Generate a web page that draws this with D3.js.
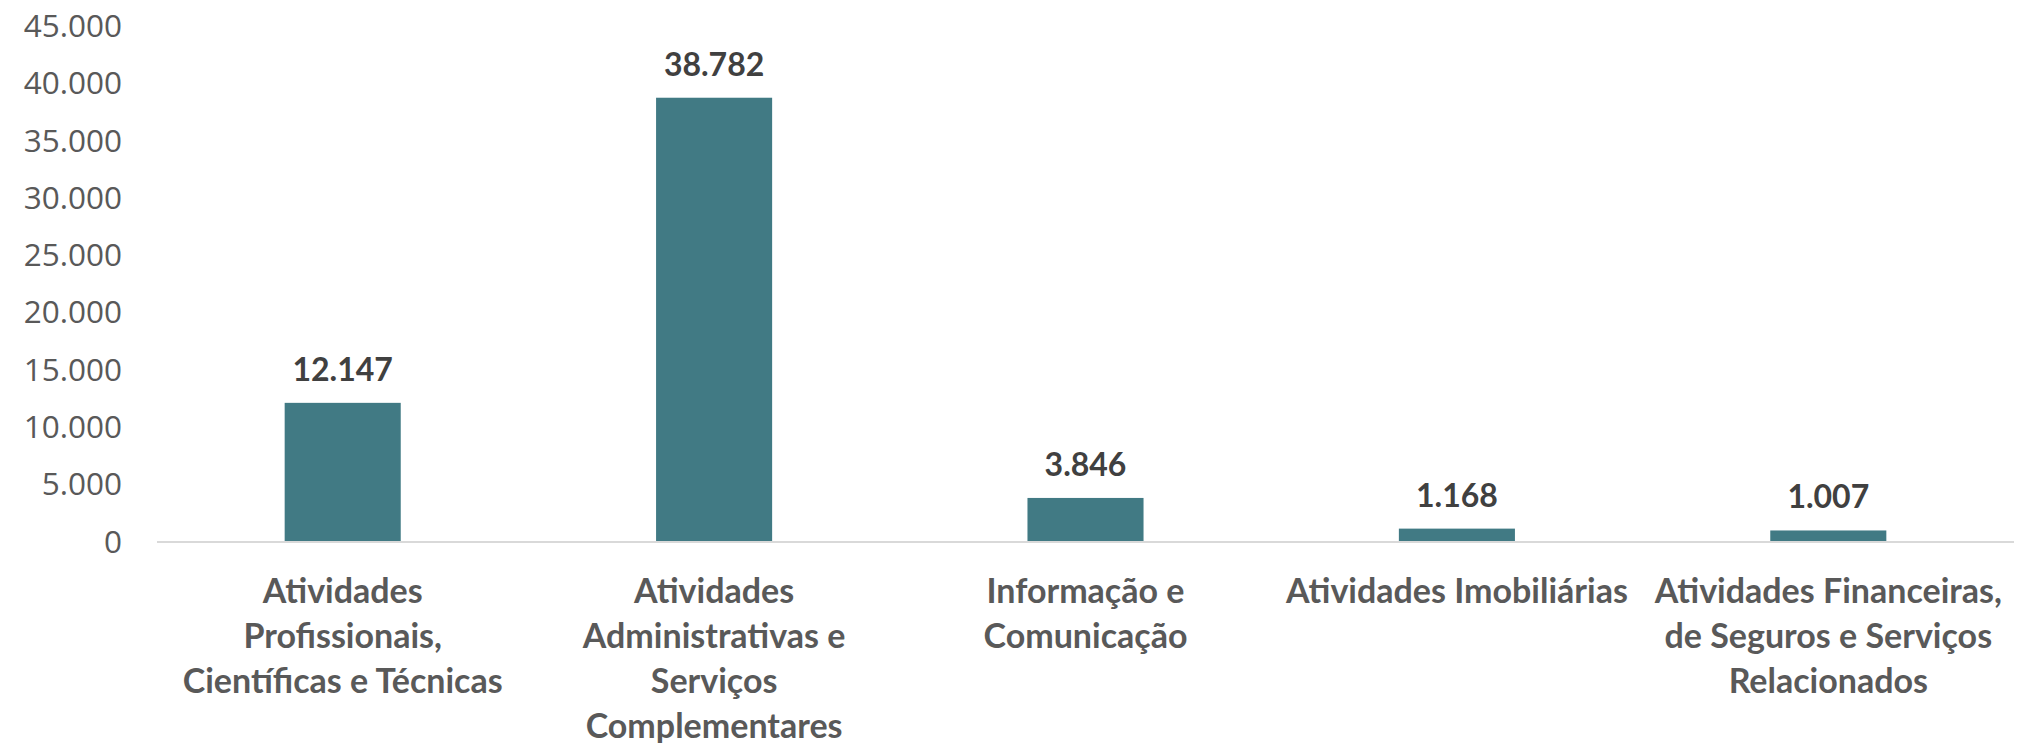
<!DOCTYPE html>
<html lang="pt">
<head>
<meta charset="utf-8">
<script src="https://cdn.jsdelivr.net/npm/d3@7"></script>
<style>
  html, body { margin: 0; padding: 0; background: #ffffff; }
  svg { display: block; }
</style>
</head>
<body>
<svg id="chart" width="2028" height="743"></svg>
<script>
// Setores de atividade e número de empresas em cada um
const categories = [
  "Atividades Profissionais, Científicas e Técnicas",
  "Atividades Administrativas e Serviços Complementares",
  "Informação e Comunicação",
  "Atividades Imobiliárias",
  "Atividades Financeiras, de Seguros e Serviços Relacionados"
];
// Quebras de linha dos rótulos do eixo das categorias
const categoryLines = [
  ["Atividades", "Profissionais,", "Científicas e Técnicas"],
  ["Atividades", "Administrativas e", "Serviços", "Complementares"],
  ["Informação e", "Comunicação"],
  ["Atividades Imobiliárias"],
  ["Atividades Financeiras,", "de Seguros e Serviços", "Relacionados"]
];
const values = [12147, 38782, 3846, 1168, 1007];
const yTicks = [0, 5000, 10000, 15000, 20000, 25000, 30000, 35000, 40000, 45000];

const svg = d3.select("#chart");
const left = 157, right = 2014, baseY = 542, topY = 26.5;

const x = d3.scaleBand()
  .domain(categories)
  .range([left, right])
  .paddingInner(0.6875)
  .paddingOuter(0.34375);

const y = d3.scaleLinear()
  .domain([0, 45000])
  .range([baseY, topY]);

// Formato português: ponto como separador de milhares
const ptFmt = d3.formatLocale({ decimal: ",", thousands: ".", grouping: [3], currency: ["€", ""] }).format(",d");

// Eixo vertical (apenas rótulos)
const yAxis = svg.append("g")
  .attr("transform", `translate(${left},0)`)
  .call(d3.axisLeft(y).tickValues(yTicks).tickFormat(ptFmt).tickSize(0).tickPadding(35));
yAxis.select(".domain").remove();
yAxis.selectAll("text")
  .attr("font-family", "'Open Sans', sans-serif")
  .attr("font-size", 31.5)
  .attr("fill", "#595959");

// Barras
svg.append("g")
  .selectAll("rect")
  .data(values)
  .join("rect")
  .attr("x", (d, i) => x(categories[i]))
  .attr("width", x.bandwidth())
  .attr("y", d => y(d))
  .attr("height", d => y(0) - y(d))
  .attr("fill", "#417A84");

// Linha de base
const xAxis = svg.append("g")
  .attr("transform", `translate(0,${baseY})`)
  .call(d3.axisBottom(x).tickSize(0).tickFormat(""));
xAxis.select(".domain")
  .attr("d", `M${left},0H${right}`)
  .attr("stroke", "#D9D9D9")
  .attr("stroke-width", 2);

// Rótulos das categorias
xAxis.selectAll(".tick text").remove();
xAxis.selectAll(".tick").each(function (c) {
  const i = categories.indexOf(c);
  const t = d3.select(this).append("text")
    .attr("text-anchor", "middle")
    .attr("font-family", "Lato, sans-serif")
    .attr("font-weight", "bold")
    .attr("font-size", 34)
    .attr("fill", "#595959");
  categoryLines[i].forEach((line, k) => {
    t.append("tspan").attr("x", 0).attr("y", 61 + k * 45).text(line);
  });
});

// Rótulos de valores
svg.append("g")
  .selectAll("text")
  .data(values)
  .join("text")
  .attr("x", (d, i) => x(categories[i]) + x.bandwidth() / 2)
  .attr("y", d => y(d) - 22)
  .attr("text-anchor", "middle")
  .attr("font-family", "Lato, sans-serif")
  .attr("font-weight", "bold")
  .attr("font-size", 32)
  .attr("fill", "#404040")
  .text(d => ptFmt(d));
</script>
</body>
</html>
